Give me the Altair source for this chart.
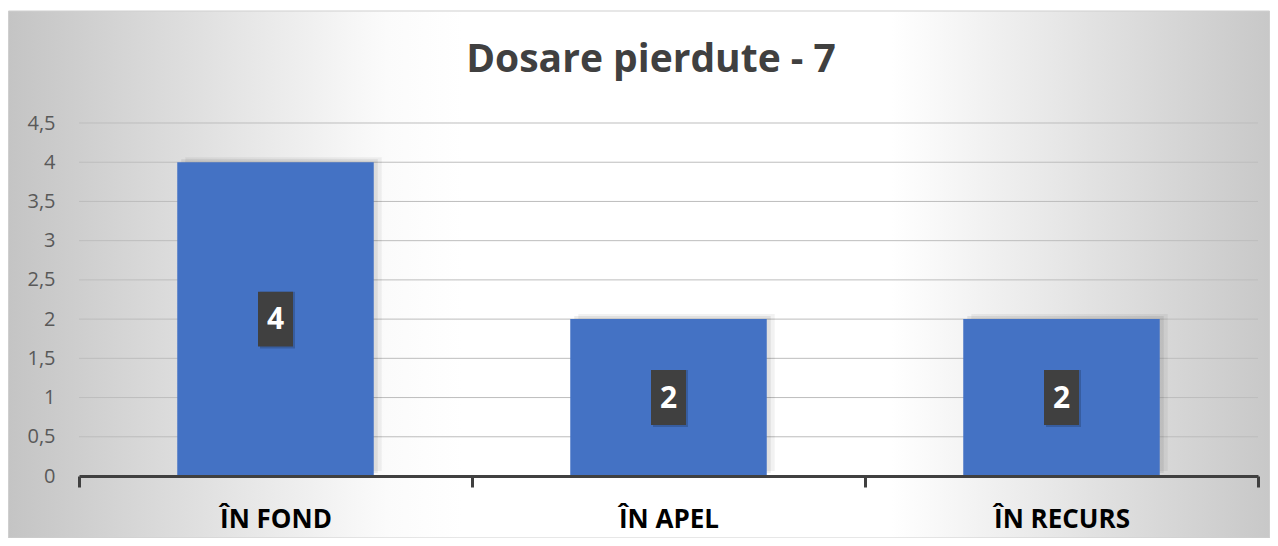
import altair as alt
import pandas as pd

categories = ["ÎN FOND", "ÎN APEL", "ÎN RECURS"]
values = [4, 2, 2]
grid_values = [0.5, 1, 1.5, 2, 2.5, 3, 3.5, 4, 4.5]
tick_values = [0, 0.5, 1, 1.5, 2, 2.5, 3, 3.5, 4, 4.5]
title_text = "Dosare pierdute - 7"

FONT = "Open Sans"
W, H = 1179, 353
PAD = {"left": 71, "top": 115, "right": 12, "bottom": 62}

df = pd.DataFrame({"cat": categories, "val": values})
grid_df = pd.DataFrame({"g": grid_values})

xscale = alt.Scale(domain=categories, paddingInner=0, paddingOuter=0)
yscale = alt.Scale(domain=[0, 4.5], nice=False, zero=True)

yaxis = alt.Axis(
    title=None,
    values=tick_values,
    labelExpr="replace(format(datum.value, '.1~f'), '.', ',')",
    domain=False,
    ticks=False,
    grid=False,
    labelPadding=24,
    labelFont=FONT,
    labelFontSize=20,
    labelColor="#595959",
    zindex=1,
)
xaxis = alt.Axis(
    title=None,
    tickBand="extent",
    domainColor="#404040",
    domainWidth=3,
    tickColor="#404040",
    tickWidth=3,
    tickSize=11,
    labelFont=FONT,
    labelFontSize=26,
    labelFontWeight="bold",
    labelColor="#000000",
    labelBaseline="alphabetic",
    labelPadding=40,
    labelAngle=0,
    grid=False,
    zindex=1,
)

base = alt.Chart(df)

bg = alt.Chart(alt.Data(values=[{"k": 1}])).mark_rect(
    clip=False,
    stroke="#cfcfcf",
    strokeWidth=1,
    fill=alt.LinearGradient(
        gradient="linear",
        x1=0, y1=0, x2=1, y2=0,
        stops=[
            alt.GradientStop(offset=0.0, color="#c4c4c4"),
            alt.GradientStop(offset=0.3, color="#fbfbfb"),
            alt.GradientStop(offset=0.36, color="#ffffff"),
            alt.GradientStop(offset=0.70, color="#ffffff"),
            alt.GradientStop(offset=1.0, color="#c8c8c8"),
        ],
    ),
).encode(
    x=alt.value(-PAD["left"] + 0.5),
    x2=alt.value(W + PAD["right"] - 0.5),
    y=alt.value(-112),
    y2=alt.value(H + PAD["bottom"]),
)

grid = alt.Chart(grid_df).mark_rule(color="#bdbdbd", strokeWidth=1).encode(
    y=alt.Y("g:Q", scale=yscale, axis=yaxis),
    x=alt.value(0),
    x2=alt.value(W),
)

xenc = alt.X("cat:N", scale=xscale, sort=categories, axis=xaxis)
yenc = alt.Y("val:Q", scale=yscale, axis=yaxis)

BAR_W = alt.RelativeBandSize(band=0.5)

shadow1 = base.mark_bar(width=BAR_W, color="#000000", opacity=0.07, xOffset=4, yOffset=-3, clip=False).encode(
    x=xenc, y=yenc)
shadow2 = base.mark_bar(width=BAR_W, color="#000000", opacity=0.05, xOffset=8, yOffset=-5, clip=False).encode(
    x=xenc, y=yenc)

bars = base.mark_bar(width=BAR_W, color="#4472c4").encode(x=xenc, y=yenc)

box_base = base.transform_calculate(
    lo="datum.val / 2 - 0.35",
    hi="datum.val / 2 + 0.35",
    mid="datum.val / 2",
)
box_shadow = box_base.mark_bar(width=35, color="#000000", opacity=0.18, xOffset=2, yOffset=2).encode(
    x=xenc,
    y=alt.Y("lo:Q", scale=yscale, axis=yaxis),
    y2="hi:Q",
)
box = box_base.mark_bar(width=35, color="#404040").encode(
    x=xenc,
    y=alt.Y("lo:Q", scale=yscale, axis=yaxis),
    y2="hi:Q",
)
box_text = box_base.mark_text(
    font=FONT, fontSize=30, fontWeight="bold", color="#ffffff", baseline="middle", dy=1
).encode(
    x=xenc,
    y=alt.Y("mid:Q", scale=yscale, axis=yaxis),
    text=alt.Text("val:Q"),
)

title = alt.Chart(alt.Data(values=[{"t": title_text}])).mark_text(
    font=FONT, fontSize=39, fontWeight="bold", color="#404040",
    align="center", baseline="alphabetic",
).encode(
    x=alt.value(651 - 79),
    y=alt.value(72 - 123),
    text="t:N",
)

chart = alt.layer(bg, grid, shadow2, shadow1, bars, box_shadow, box, box_text, title).properties(
    width=W,
    height=H,
    padding=PAD,
    autosize=alt.AutoSizeParams(type="none"),
    background="#ffffff",
).configure_view(stroke=None)

chart.save("out.html", embed_options={"renderer": "svg", "actions": False})
